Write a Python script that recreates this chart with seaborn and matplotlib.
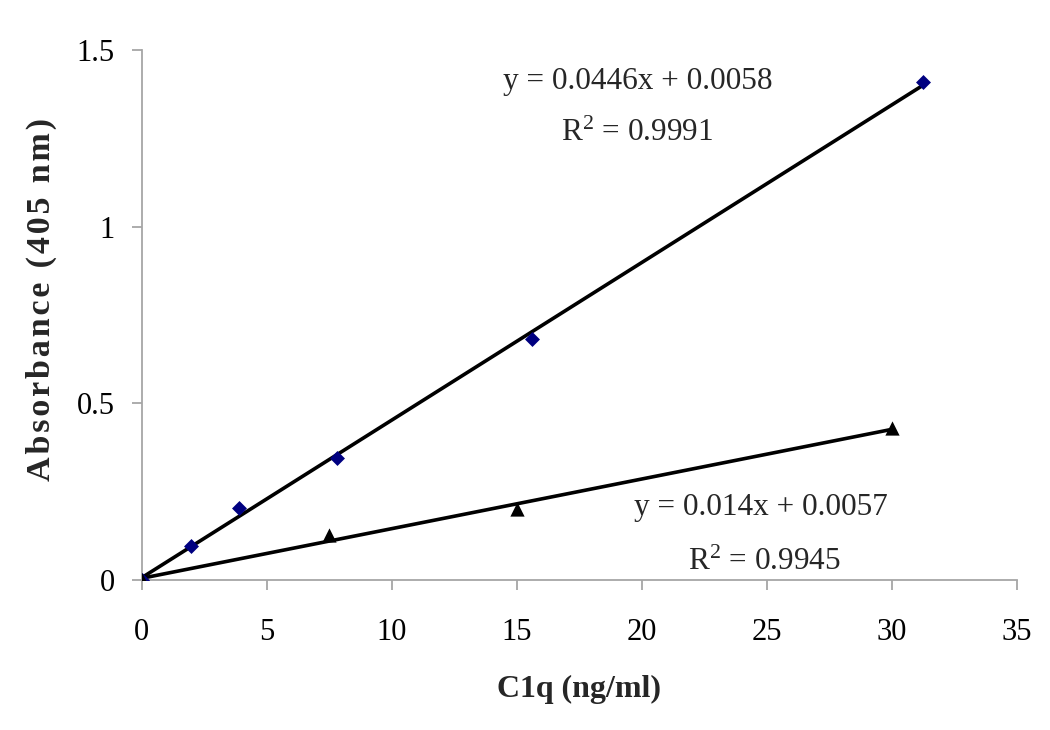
import numpy as np
import pandas as pd
import matplotlib
matplotlib.use("Agg")
import matplotlib.pyplot as plt
import seaborn as sns

# ---- data ----
conc_a = [0.0, 1.95, 3.9, 7.8, 15.6, 31.25]
abs_a = [0.0, 0.097, 0.203, 0.346, 0.682, 1.41]
conc_b = [0.0, 7.5, 15.0, 30.0]
abs_b = [0.0, 0.127, 0.20, 0.43]
eq_a = ["y = 0.0446x + 0.0058", "R$^2$ = 0.9991"]
eq_b = ["y = 0.014x + 0.0057", "R$^2$ = 0.9945"]
x_ticks = [0, 5, 10, 15, 20, 25, 30, 35]
y_ticks = [0, 0.5, 1, 1.5]
y_tick_labels = ["0", "0.5", "1", "1.5"]

sns.set_theme(style="white")
plt.rcParams["font.family"] = ["Liberation Serif", "DejaVu Serif"]
plt.rcParams["mathtext.fontset"] = "custom"
plt.rcParams["mathtext.rm"] = "Liberation Serif"
plt.rcParams["mathtext.it"] = "Liberation Serif:italic"

fig = plt.figure(figsize=(10.5, 7.3), dpi=100)
ax = fig.add_axes([0.135, 0.2055, 0.8336, 0.726])

df_a = pd.DataFrame({"x": conc_a, "y": abs_a})
df_b = pd.DataFrame({"x": conc_b, "y": abs_b})

sns.regplot(data=df_a, x="x", y="y", ax=ax, ci=None, marker="D",
            scatter_kws=dict(color="#000080", s=58, linewidths=0, alpha=1, zorder=3),
            line_kws=dict(color="black", lw=2.6, zorder=2))
sns.regplot(data=df_b, x="x", y="y", ax=ax, ci=None, marker="^",
            scatter_kws=dict(color="black", s=105, linewidths=0, alpha=1, zorder=3),
            line_kws=dict(color="black", lw=2.6, zorder=2))

ax.set_xlim(0, 35)
ax.set_ylim(0, 1.5)
ax.set_xticks(x_ticks)
ax.set_xticklabels([str(t) for t in x_ticks])
ax.set_yticks(y_ticks)
ax.set_yticklabels(y_tick_labels)

for s in ["top", "right"]:
    ax.spines[s].set_visible(False)
for s in ["left", "bottom"]:
    ax.spines[s].set_color("#a6a6a6")
    ax.spines[s].set_linewidth(1.3)
ax.tick_params(axis="both", direction="out", length=7.5, width=1.3,
               color="#a6a6a6", labelsize=22, labelcolor="black",
               bottom=True, left=True)
ax.tick_params(axis="x", pad=20)
ax.tick_params(axis="y", pad=12)

ax.set_xlabel("C1q (ng/ml)", fontsize=23, fontweight="bold", labelpad=20)
ylab = "\u200a".join(list("Absorbance (405 nm)"))
ax.set_ylabel(ylab, fontsize=24.5, fontweight="bold")
ax.yaxis.set_label_coords(-0.097, 0.53)

for (txt, xp, yp) in [(eq_a[0], 638, 82), (eq_a[1], 637, 133),
                       (eq_b[0], 761, 507), (eq_b[1], 764, 562)]:
    fx, fy = xp / 1050, 1 - yp / 730
    fig.text(fx, fy, txt, fontsize=22.5, ha="center", va="center")

fig.savefig("out.png", dpi=100, facecolor="white")
